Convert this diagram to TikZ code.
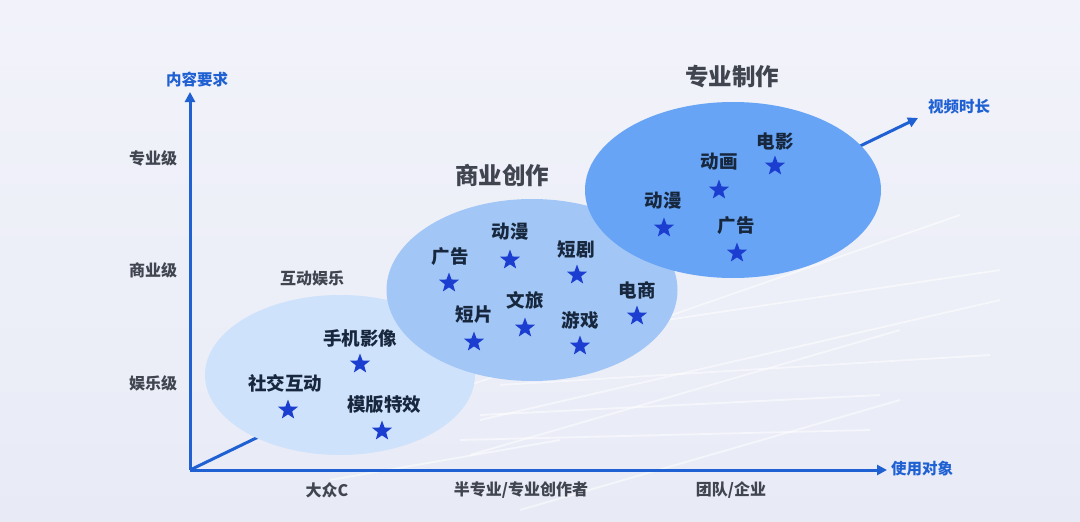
\documentclass[tikz,border=0pt]{standalone}
\usepackage{fontspec}
\setmainfont{Noto Sans CJK SC}
\usetikzlibrary{shapes.geometric,arrows.meta}
\definecolor{bgtop}{HTML}{F2F3FA}
\definecolor{bgbot}{HTML}{E8EBF6}
\definecolor{axisc}{HTML}{1F60D3}
\definecolor{ellA}{HTML}{CFE2FB}
\definecolor{ellB}{HTML}{A2C6F6}
\definecolor{ellC}{HTML}{67A4F5}
\definecolor{starc}{HTML}{1B3ED0}
\definecolor{labc}{HTML}{17273D}
\definecolor{grayc}{HTML}{40454F}
\tikzset{
  axisline/.style={draw=axisc,line width=3pt,-{Triangle[length=10pt,width=10pt]}},
  axislab/.style={text=axisc,font=\fontsize{15.5}{15.5}\selectfont\bfseries,inner sep=0pt},
  ticklab/.style={text=grayc,font=\fontsize{16}{16}\selectfont\bfseries,inner sep=0pt},
  grouptitle/.style={text=grayc,font=\fontsize{23.5}{23.5}\selectfont\bfseries,inner sep=0pt},
  smalltitle/.style={text=grayc,font=\fontsize{16}{16}\selectfont\bfseries,inner sep=0pt},
  itemlab/.style={text=labc,font=\fontsize{18.5}{18.5}\selectfont\bfseries,inner sep=0pt},
  staricon/.style={star,star points=5,star point ratio=2.4,minimum size=21pt,inner sep=0pt,fill=starc,draw=none},
  bgline/.style={draw=white,line width=1.8pt,opacity=0.55},
}
\begin{document}
\begin{tikzpicture}[x=1pt,y=-1pt]
\shade[top color=bgtop,bottom color=bgbot] (0,0) rectangle (1080,522);
\useasboundingbox (0,0) rectangle (1080,522);
% faint background lines
\draw[bgline] (470,385) -- (960,215);
\draw[bgline] (480,420) -- (1000,300);
\draw[bgline] (470,455) -- (900,330);
\draw[bgline] (500,385) -- (990,355);
\draw[bgline] (480,415) -- (880,395);
\draw[bgline] (460,440) -- (870,430);
\draw[bgline] (600,330) -- (1000,270);
\draw[bgline] (520,510) -- (900,400);
\draw[bgline] (330,480) -- (560,440);
% axes
\coordinate (O) at (190,470);
\coordinate (ytop) at (190,92);
\coordinate (xend) at (887,470);
\coordinate (dend) at (918,118);
\draw[axisline] (O) -- (ytop);
\draw[axisline] (O) -- (xend);
\draw[axisline] (O) -- (dend);
% ellipses
\node[ellipse,fill=ellA,minimum width=270pt,minimum height=160pt,inner sep=0pt] (eA) at (340,375) {};
\node[ellipse,fill=ellB,minimum width=291pt,minimum height=182pt,inner sep=0pt] (eB) at (532,290) {};
\node[ellipse,fill=ellC,minimum width=296pt,minimum height=176pt,inner sep=0pt] (eC) at (733,190) {};
% axis labels
\node[axislab] (ylab) at (197,80) {内容要求};
\node[axislab] (xlab) at (922,469) {使用对象};
\node[axislab] (dlab) at (959,107) {视频时长};
\node[ticklab] (t1) at (153,158) {专业级};
\node[ticklab] (t2) at (153,270) {商业级};
\node[ticklab] (t3) at (153,383) {娱乐级};
\node[ticklab] (b1) at (327,490) {大众C};
\node[ticklab] (b2) at (521,490) {半专业/专业创作者};
\node[ticklab] (b3) at (731,490) {团队/企业};
% group titles
\node[smalltitle] (gA) at (312,278) {互动娱乐};
\node[grouptitle] (gB) at (502,175) {商业创作};
\node[grouptitle] (gC) at (732,77) {专业制作};
% entertainment items
\node[itemlab] (a1) at (360,338) {手机影像};
\node[staricon] (sa1) at (360,364) {};
\node[itemlab] (a2) at (285,383) {社交互动};
\node[staricon] (sa2) at (288,410) {};
\node[itemlab] (a3) at (384,405) {模版特效};
\node[staricon] (sa3) at (382,431) {};
% commercial items
\node[itemlab] (b1i) at (450,257) {广告};
\node[staricon] (sb1) at (449,283) {};
\node[itemlab] (b2i) at (510,232) {动漫};
\node[staricon] (sb2) at (510,260) {};
\node[itemlab] (b3i) at (576,249) {短剧};
\node[staricon] (sb3) at (577,275) {};
\node[itemlab] (b4i) at (525,300) {文旅};
\node[staricon] (sb4) at (525,328) {};
\node[itemlab] (b5i) at (474,315) {短片};
\node[staricon] (sb5) at (474,342) {};
\node[itemlab] (b6i) at (580,320) {游戏};
\node[staricon] (sb6) at (580,346) {};
\node[itemlab] (b7i) at (637,290) {电商};
\node[staricon] (sb7) at (637,316) {};
% professional items
\node[itemlab] (c1) at (775,142) {电影};
\node[staricon] (sc1) at (775,166) {};
\node[itemlab] (c2) at (719,162) {动画};
\node[staricon] (sc2) at (719,190) {};
\node[itemlab] (c3) at (663,201) {动漫};
\node[staricon] (sc3) at (664,228) {};
\node[itemlab] (c4) at (736,226) {广告};
\node[staricon] (sc4) at (737,253) {};
\end{tikzpicture}
\end{document}
